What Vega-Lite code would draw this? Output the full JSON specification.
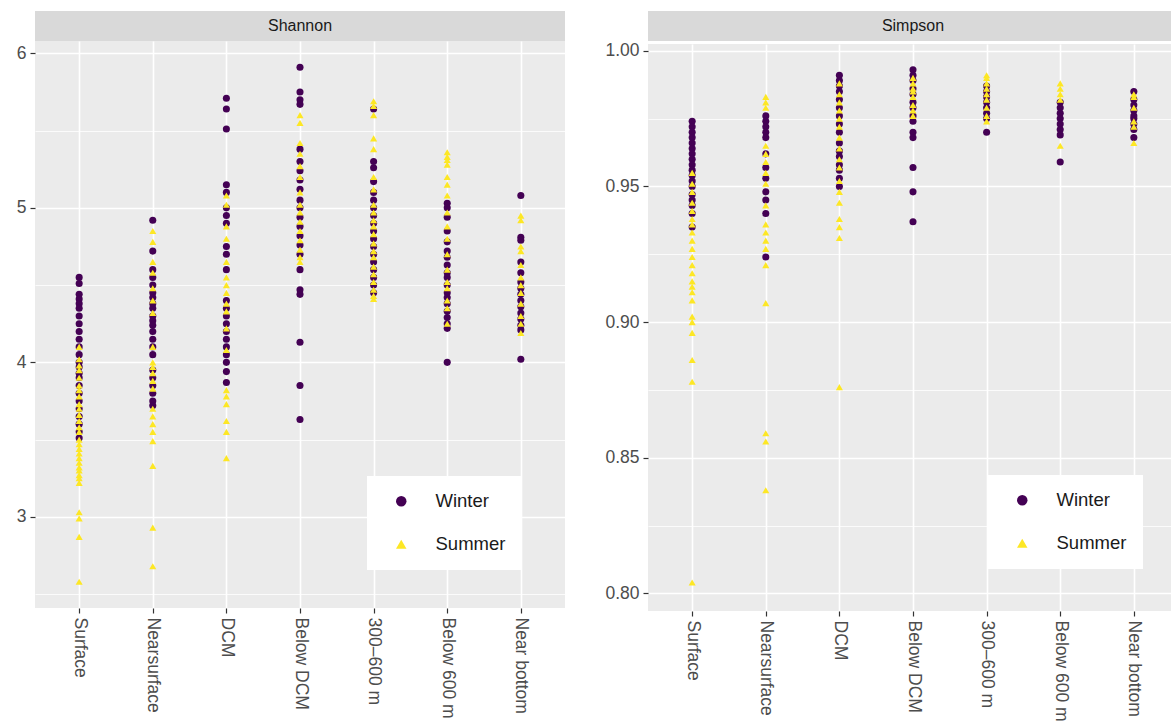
{
  "$schema": "https://vega.github.io/schema/vega-lite/v6.json",
  "background": "white",
  "padding": {"left": 16, "top": 11, "right": 0, "bottom": 0},
  "config": {
    "font": "Liberation Sans",
    "axis": {"domain": false, "labelColor": "#4d4d4d", "labelFontSize": 17.5, "labelFont": "Liberation Sans", "tickColor": "#333333", "tickSize": 5, "tickWidth": 1.2, "gridColor": "#ffffff", "gridWidth": 1.6, "title": null},
    "legend": {"title": null, "orient": "none", "fillColor": "#ffffff", "padding": 16, "labelFontSize": 18.5, "labelFont": "Liberation Sans", "labelColor": "#1a1a1a", "symbolSize": 110, "rowPadding": 24, "symbolOffset": 9, "labelOffset": 25, "symbolStrokeWidth": 0}
  },
  "datasets": {
    "shannon": [
      {"depth":"Surface","season":"Winter","value":4.55},{"depth":"Surface","season":"Winter","value":4.51},{"depth":"Surface","season":"Winter","value":4.44},{"depth":"Surface","season":"Winter","value":4.41},{"depth":"Surface","season":"Winter","value":4.38},{"depth":"Surface","season":"Winter","value":4.35},{"depth":"Surface","season":"Winter","value":4.3},{"depth":"Surface","season":"Winter","value":4.25},{"depth":"Surface","season":"Winter","value":4.2},{"depth":"Surface","season":"Winter","value":4.15},{"depth":"Surface","season":"Winter","value":4.1},{"depth":"Surface","season":"Winter","value":4.05},{"depth":"Surface","season":"Winter","value":4.0},{"depth":"Surface","season":"Winter","value":3.97},{"depth":"Surface","season":"Winter","value":3.93},{"depth":"Surface","season":"Winter","value":3.9},{"depth":"Surface","season":"Winter","value":3.85},{"depth":"Surface","season":"Winter","value":3.8},{"depth":"Surface","season":"Winter","value":3.75},{"depth":"Surface","season":"Winter","value":3.7},{"depth":"Surface","season":"Winter","value":3.65},{"depth":"Surface","season":"Winter","value":3.6},{"depth":"Surface","season":"Winter","value":3.55},{"depth":"Surface","season":"Winter","value":3.51},
      {"depth":"Surface","season":"Summer","value":4.1},{"depth":"Surface","season":"Summer","value":4.02},{"depth":"Surface","season":"Summer","value":3.98},{"depth":"Surface","season":"Summer","value":3.95},{"depth":"Surface","season":"Summer","value":3.9},{"depth":"Surface","season":"Summer","value":3.85},{"depth":"Surface","season":"Summer","value":3.82},{"depth":"Surface","season":"Summer","value":3.78},{"depth":"Surface","season":"Summer","value":3.73},{"depth":"Surface","season":"Summer","value":3.7},{"depth":"Surface","season":"Summer","value":3.66},{"depth":"Surface","season":"Summer","value":3.62},{"depth":"Surface","season":"Summer","value":3.58},{"depth":"Surface","season":"Summer","value":3.55},{"depth":"Surface","season":"Summer","value":3.5},{"depth":"Surface","season":"Summer","value":3.47},{"depth":"Surface","season":"Summer","value":3.44},{"depth":"Surface","season":"Summer","value":3.41},{"depth":"Surface","season":"Summer","value":3.38},{"depth":"Surface","season":"Summer","value":3.35},{"depth":"Surface","season":"Summer","value":3.32},{"depth":"Surface","season":"Summer","value":3.3},{"depth":"Surface","season":"Summer","value":3.27},{"depth":"Surface","season":"Summer","value":3.25},{"depth":"Surface","season":"Summer","value":3.22},{"depth":"Surface","season":"Summer","value":3.03},{"depth":"Surface","season":"Summer","value":2.99},{"depth":"Surface","season":"Summer","value":2.87},{"depth":"Surface","season":"Summer","value":2.58},
      {"depth":"Nearsurface","season":"Winter","value":4.92},{"depth":"Nearsurface","season":"Winter","value":4.72},{"depth":"Nearsurface","season":"Winter","value":4.6},{"depth":"Nearsurface","season":"Winter","value":4.55},{"depth":"Nearsurface","season":"Winter","value":4.5},{"depth":"Nearsurface","season":"Winter","value":4.45},{"depth":"Nearsurface","season":"Winter","value":4.42},{"depth":"Nearsurface","season":"Winter","value":4.38},{"depth":"Nearsurface","season":"Winter","value":4.35},{"depth":"Nearsurface","season":"Winter","value":4.3},{"depth":"Nearsurface","season":"Winter","value":4.27},{"depth":"Nearsurface","season":"Winter","value":4.24},{"depth":"Nearsurface","season":"Winter","value":4.2},{"depth":"Nearsurface","season":"Winter","value":4.15},{"depth":"Nearsurface","season":"Winter","value":4.1},{"depth":"Nearsurface","season":"Winter","value":4.05},{"depth":"Nearsurface","season":"Winter","value":3.95},{"depth":"Nearsurface","season":"Winter","value":3.9},{"depth":"Nearsurface","season":"Winter","value":3.85},{"depth":"Nearsurface","season":"Winter","value":3.8},{"depth":"Nearsurface","season":"Winter","value":3.75},{"depth":"Nearsurface","season":"Winter","value":3.72},
      {"depth":"Nearsurface","season":"Summer","value":4.85},{"depth":"Nearsurface","season":"Summer","value":4.78},{"depth":"Nearsurface","season":"Summer","value":4.65},{"depth":"Nearsurface","season":"Summer","value":4.58},{"depth":"Nearsurface","season":"Summer","value":4.48},{"depth":"Nearsurface","season":"Summer","value":4.4},{"depth":"Nearsurface","season":"Summer","value":4.32},{"depth":"Nearsurface","season":"Summer","value":4.1},{"depth":"Nearsurface","season":"Summer","value":4.0},{"depth":"Nearsurface","season":"Summer","value":3.97},{"depth":"Nearsurface","season":"Summer","value":3.93},{"depth":"Nearsurface","season":"Summer","value":3.88},{"depth":"Nearsurface","season":"Summer","value":3.83},{"depth":"Nearsurface","season":"Summer","value":3.7},{"depth":"Nearsurface","season":"Summer","value":3.65},{"depth":"Nearsurface","season":"Summer","value":3.6},{"depth":"Nearsurface","season":"Summer","value":3.55},{"depth":"Nearsurface","season":"Summer","value":3.49},{"depth":"Nearsurface","season":"Summer","value":3.33},{"depth":"Nearsurface","season":"Summer","value":2.93},{"depth":"Nearsurface","season":"Summer","value":2.68},
      {"depth":"DCM","season":"Winter","value":5.71},{"depth":"DCM","season":"Winter","value":5.64},{"depth":"DCM","season":"Winter","value":5.51},{"depth":"DCM","season":"Winter","value":5.15},{"depth":"DCM","season":"Winter","value":5.1},{"depth":"DCM","season":"Winter","value":5.0},{"depth":"DCM","season":"Winter","value":4.95},{"depth":"DCM","season":"Winter","value":4.9},{"depth":"DCM","season":"Winter","value":4.75},{"depth":"DCM","season":"Winter","value":4.7},{"depth":"DCM","season":"Winter","value":4.6},{"depth":"DCM","season":"Winter","value":4.4},{"depth":"DCM","season":"Winter","value":4.35},{"depth":"DCM","season":"Winter","value":4.3},{"depth":"DCM","season":"Winter","value":4.25},{"depth":"DCM","season":"Winter","value":4.2},{"depth":"DCM","season":"Winter","value":4.15},{"depth":"DCM","season":"Winter","value":4.1},{"depth":"DCM","season":"Winter","value":4.05},{"depth":"DCM","season":"Winter","value":4.0},{"depth":"DCM","season":"Winter","value":3.94},{"depth":"DCM","season":"Winter","value":3.87},
      {"depth":"DCM","season":"Summer","value":5.08},{"depth":"DCM","season":"Summer","value":5.02},{"depth":"DCM","season":"Summer","value":4.88},{"depth":"DCM","season":"Summer","value":4.8},{"depth":"DCM","season":"Summer","value":4.65},{"depth":"DCM","season":"Summer","value":4.55},{"depth":"DCM","season":"Summer","value":4.5},{"depth":"DCM","season":"Summer","value":4.45},{"depth":"DCM","season":"Summer","value":4.38},{"depth":"DCM","season":"Summer","value":4.33},{"depth":"DCM","season":"Summer","value":4.22},{"depth":"DCM","season":"Summer","value":4.08},{"depth":"DCM","season":"Summer","value":3.82},{"depth":"DCM","season":"Summer","value":3.78},{"depth":"DCM","season":"Summer","value":3.73},{"depth":"DCM","season":"Summer","value":3.62},{"depth":"DCM","season":"Summer","value":3.55},{"depth":"DCM","season":"Summer","value":3.38},
      {"depth":"Below DCM","season":"Winter","value":5.91},{"depth":"Below DCM","season":"Winter","value":5.75},{"depth":"Below DCM","season":"Winter","value":5.7},{"depth":"Below DCM","season":"Winter","value":5.67},{"depth":"Below DCM","season":"Winter","value":5.38},{"depth":"Below DCM","season":"Winter","value":5.3},{"depth":"Below DCM","season":"Winter","value":5.24},{"depth":"Below DCM","season":"Winter","value":5.18},{"depth":"Below DCM","season":"Winter","value":5.12},{"depth":"Below DCM","season":"Winter","value":5.05},{"depth":"Below DCM","season":"Winter","value":5.0},{"depth":"Below DCM","season":"Winter","value":4.94},{"depth":"Below DCM","season":"Winter","value":4.88},{"depth":"Below DCM","season":"Winter","value":4.82},{"depth":"Below DCM","season":"Winter","value":4.76},{"depth":"Below DCM","season":"Winter","value":4.7},{"depth":"Below DCM","season":"Winter","value":4.6},{"depth":"Below DCM","season":"Winter","value":4.47},{"depth":"Below DCM","season":"Winter","value":4.44},{"depth":"Below DCM","season":"Winter","value":4.13},{"depth":"Below DCM","season":"Winter","value":3.85},{"depth":"Below DCM","season":"Winter","value":3.63},
      {"depth":"Below DCM","season":"Summer","value":5.6},{"depth":"Below DCM","season":"Summer","value":5.55},{"depth":"Below DCM","season":"Summer","value":5.42},{"depth":"Below DCM","season":"Summer","value":5.35},{"depth":"Below DCM","season":"Summer","value":5.27},{"depth":"Below DCM","season":"Summer","value":5.2},{"depth":"Below DCM","season":"Summer","value":5.1},{"depth":"Below DCM","season":"Summer","value":5.02},{"depth":"Below DCM","season":"Summer","value":4.97},{"depth":"Below DCM","season":"Summer","value":4.91},{"depth":"Below DCM","season":"Summer","value":4.85},{"depth":"Below DCM","season":"Summer","value":4.79},{"depth":"Below DCM","season":"Summer","value":4.73},{"depth":"Below DCM","season":"Summer","value":4.68},{"depth":"Below DCM","season":"Summer","value":4.65},
      {"depth":"300–600 m","season":"Winter","value":5.64},{"depth":"300–600 m","season":"Winter","value":5.3},{"depth":"300–600 m","season":"Winter","value":5.26},{"depth":"300–600 m","season":"Winter","value":5.17},{"depth":"300–600 m","season":"Winter","value":5.1},{"depth":"300–600 m","season":"Winter","value":5.05},{"depth":"300–600 m","season":"Winter","value":5.0},{"depth":"300–600 m","season":"Winter","value":4.95},{"depth":"300–600 m","season":"Winter","value":4.9},{"depth":"300–600 m","season":"Winter","value":4.85},{"depth":"300–600 m","season":"Winter","value":4.8},{"depth":"300–600 m","season":"Winter","value":4.75},{"depth":"300–600 m","season":"Winter","value":4.7},{"depth":"300–600 m","season":"Winter","value":4.65},{"depth":"300–600 m","season":"Winter","value":4.6},{"depth":"300–600 m","season":"Winter","value":4.55},{"depth":"300–600 m","season":"Winter","value":4.5},{"depth":"300–600 m","season":"Winter","value":4.45},
      {"depth":"300–600 m","season":"Summer","value":5.69},{"depth":"300–600 m","season":"Summer","value":5.66},{"depth":"300–600 m","season":"Summer","value":5.6},{"depth":"300–600 m","season":"Summer","value":5.45},{"depth":"300–600 m","season":"Summer","value":5.38},{"depth":"300–600 m","season":"Summer","value":5.2},{"depth":"300–600 m","season":"Summer","value":5.12},{"depth":"300–600 m","season":"Summer","value":5.02},{"depth":"300–600 m","season":"Summer","value":4.97},{"depth":"300–600 m","season":"Summer","value":4.92},{"depth":"300–600 m","season":"Summer","value":4.88},{"depth":"300–600 m","season":"Summer","value":4.83},{"depth":"300–600 m","season":"Summer","value":4.77},{"depth":"300–600 m","season":"Summer","value":4.72},{"depth":"300–600 m","season":"Summer","value":4.68},{"depth":"300–600 m","season":"Summer","value":4.62},{"depth":"300–600 m","season":"Summer","value":4.57},{"depth":"300–600 m","season":"Summer","value":4.52},{"depth":"300–600 m","season":"Summer","value":4.47},{"depth":"300–600 m","season":"Summer","value":4.43},{"depth":"300–600 m","season":"Summer","value":4.41},
      {"depth":"Below 600 m","season":"Winter","value":5.03},{"depth":"Below 600 m","season":"Winter","value":5.0},{"depth":"Below 600 m","season":"Winter","value":4.94},{"depth":"Below 600 m","season":"Winter","value":4.85},{"depth":"Below 600 m","season":"Winter","value":4.78},{"depth":"Below 600 m","season":"Winter","value":4.72},{"depth":"Below 600 m","season":"Winter","value":4.68},{"depth":"Below 600 m","season":"Winter","value":4.63},{"depth":"Below 600 m","season":"Winter","value":4.58},{"depth":"Below 600 m","season":"Winter","value":4.55},{"depth":"Below 600 m","season":"Winter","value":4.5},{"depth":"Below 600 m","season":"Winter","value":4.45},{"depth":"Below 600 m","season":"Winter","value":4.42},{"depth":"Below 600 m","season":"Winter","value":4.38},{"depth":"Below 600 m","season":"Winter","value":4.33},{"depth":"Below 600 m","season":"Winter","value":4.29},{"depth":"Below 600 m","season":"Winter","value":4.25},{"depth":"Below 600 m","season":"Winter","value":4.22},{"depth":"Below 600 m","season":"Winter","value":4.0},
      {"depth":"Below 600 m","season":"Summer","value":5.36},{"depth":"Below 600 m","season":"Summer","value":5.33},{"depth":"Below 600 m","season":"Summer","value":5.31},{"depth":"Below 600 m","season":"Summer","value":5.28},{"depth":"Below 600 m","season":"Summer","value":5.2},{"depth":"Below 600 m","season":"Summer","value":5.15},{"depth":"Below 600 m","season":"Summer","value":5.08},{"depth":"Below 600 m","season":"Summer","value":4.97},{"depth":"Below 600 m","season":"Summer","value":4.88},{"depth":"Below 600 m","season":"Summer","value":4.8},{"depth":"Below 600 m","season":"Summer","value":4.7},{"depth":"Below 600 m","season":"Summer","value":4.6},{"depth":"Below 600 m","season":"Summer","value":4.52},{"depth":"Below 600 m","season":"Summer","value":4.48},{"depth":"Below 600 m","season":"Summer","value":4.4},{"depth":"Below 600 m","season":"Summer","value":4.35},{"depth":"Below 600 m","season":"Summer","value":4.25},
      {"depth":"Near bottom","season":"Winter","value":5.08},{"depth":"Near bottom","season":"Winter","value":4.81},{"depth":"Near bottom","season":"Winter","value":4.79},{"depth":"Near bottom","season":"Winter","value":4.65},{"depth":"Near bottom","season":"Winter","value":4.58},{"depth":"Near bottom","season":"Winter","value":4.52},{"depth":"Near bottom","season":"Winter","value":4.48},{"depth":"Near bottom","season":"Winter","value":4.44},{"depth":"Near bottom","season":"Winter","value":4.4},{"depth":"Near bottom","season":"Winter","value":4.36},{"depth":"Near bottom","season":"Winter","value":4.32},{"depth":"Near bottom","season":"Winter","value":4.28},{"depth":"Near bottom","season":"Winter","value":4.24},{"depth":"Near bottom","season":"Winter","value":4.21},{"depth":"Near bottom","season":"Winter","value":4.02},
      {"depth":"Near bottom","season":"Summer","value":4.95},{"depth":"Near bottom","season":"Summer","value":4.92},{"depth":"Near bottom","season":"Summer","value":4.75},{"depth":"Near bottom","season":"Summer","value":4.72},{"depth":"Near bottom","season":"Summer","value":4.63},{"depth":"Near bottom","season":"Summer","value":4.55},{"depth":"Near bottom","season":"Summer","value":4.5},{"depth":"Near bottom","season":"Summer","value":4.45},{"depth":"Near bottom","season":"Summer","value":4.38},{"depth":"Near bottom","season":"Summer","value":4.3},{"depth":"Near bottom","season":"Summer","value":4.25},{"depth":"Near bottom","season":"Summer","value":4.19}
    ],
    "simpson": [
      {"depth":"Surface","season":"Winter","value":0.974},{"depth":"Surface","season":"Winter","value":0.972},{"depth":"Surface","season":"Winter","value":0.97},{"depth":"Surface","season":"Winter","value":0.968},{"depth":"Surface","season":"Winter","value":0.966},{"depth":"Surface","season":"Winter","value":0.964},{"depth":"Surface","season":"Winter","value":0.962},{"depth":"Surface","season":"Winter","value":0.96},{"depth":"Surface","season":"Winter","value":0.958},{"depth":"Surface","season":"Winter","value":0.956},{"depth":"Surface","season":"Winter","value":0.954},{"depth":"Surface","season":"Winter","value":0.952},{"depth":"Surface","season":"Winter","value":0.95},{"depth":"Surface","season":"Winter","value":0.947},{"depth":"Surface","season":"Winter","value":0.945},{"depth":"Surface","season":"Winter","value":0.943},{"depth":"Surface","season":"Winter","value":0.94},{"depth":"Surface","season":"Winter","value":0.935},
      {"depth":"Surface","season":"Summer","value":0.955},{"depth":"Surface","season":"Summer","value":0.951},{"depth":"Surface","season":"Summer","value":0.948},{"depth":"Surface","season":"Summer","value":0.944},{"depth":"Surface","season":"Summer","value":0.941},{"depth":"Surface","season":"Summer","value":0.938},{"depth":"Surface","season":"Summer","value":0.936},{"depth":"Surface","season":"Summer","value":0.933},{"depth":"Surface","season":"Summer","value":0.93},{"depth":"Surface","season":"Summer","value":0.927},{"depth":"Surface","season":"Summer","value":0.924},{"depth":"Surface","season":"Summer","value":0.921},{"depth":"Surface","season":"Summer","value":0.918},{"depth":"Surface","season":"Summer","value":0.915},{"depth":"Surface","season":"Summer","value":0.913},{"depth":"Surface","season":"Summer","value":0.911},{"depth":"Surface","season":"Summer","value":0.908},{"depth":"Surface","season":"Summer","value":0.902},{"depth":"Surface","season":"Summer","value":0.9},{"depth":"Surface","season":"Summer","value":0.896},{"depth":"Surface","season":"Summer","value":0.886},{"depth":"Surface","season":"Summer","value":0.878},{"depth":"Surface","season":"Summer","value":0.804},
      {"depth":"Nearsurface","season":"Winter","value":0.976},{"depth":"Nearsurface","season":"Winter","value":0.974},{"depth":"Nearsurface","season":"Winter","value":0.972},{"depth":"Nearsurface","season":"Winter","value":0.97},{"depth":"Nearsurface","season":"Winter","value":0.968},{"depth":"Nearsurface","season":"Winter","value":0.962},{"depth":"Nearsurface","season":"Winter","value":0.957},{"depth":"Nearsurface","season":"Winter","value":0.953},{"depth":"Nearsurface","season":"Winter","value":0.948},{"depth":"Nearsurface","season":"Winter","value":0.945},{"depth":"Nearsurface","season":"Winter","value":0.94},{"depth":"Nearsurface","season":"Winter","value":0.924},
      {"depth":"Nearsurface","season":"Summer","value":0.983},{"depth":"Nearsurface","season":"Summer","value":0.981},{"depth":"Nearsurface","season":"Summer","value":0.979},{"depth":"Nearsurface","season":"Summer","value":0.965},{"depth":"Nearsurface","season":"Summer","value":0.962},{"depth":"Nearsurface","season":"Summer","value":0.959},{"depth":"Nearsurface","season":"Summer","value":0.955},{"depth":"Nearsurface","season":"Summer","value":0.951},{"depth":"Nearsurface","season":"Summer","value":0.943},{"depth":"Nearsurface","season":"Summer","value":0.936},{"depth":"Nearsurface","season":"Summer","value":0.933},{"depth":"Nearsurface","season":"Summer","value":0.93},{"depth":"Nearsurface","season":"Summer","value":0.927},{"depth":"Nearsurface","season":"Summer","value":0.921},{"depth":"Nearsurface","season":"Summer","value":0.907},{"depth":"Nearsurface","season":"Summer","value":0.859},{"depth":"Nearsurface","season":"Summer","value":0.856},{"depth":"Nearsurface","season":"Summer","value":0.838},
      {"depth":"DCM","season":"Winter","value":0.991},{"depth":"DCM","season":"Winter","value":0.989},{"depth":"DCM","season":"Winter","value":0.987},{"depth":"DCM","season":"Winter","value":0.985},{"depth":"DCM","season":"Winter","value":0.982},{"depth":"DCM","season":"Winter","value":0.979},{"depth":"DCM","season":"Winter","value":0.976},{"depth":"DCM","season":"Winter","value":0.973},{"depth":"DCM","season":"Winter","value":0.97},{"depth":"DCM","season":"Winter","value":0.966},{"depth":"DCM","season":"Winter","value":0.963},{"depth":"DCM","season":"Winter","value":0.961},{"depth":"DCM","season":"Winter","value":0.958},{"depth":"DCM","season":"Winter","value":0.956},{"depth":"DCM","season":"Winter","value":0.953},{"depth":"DCM","season":"Winter","value":0.95},
      {"depth":"DCM","season":"Summer","value":0.988},{"depth":"DCM","season":"Summer","value":0.984},{"depth":"DCM","season":"Summer","value":0.981},{"depth":"DCM","season":"Summer","value":0.978},{"depth":"DCM","season":"Summer","value":0.975},{"depth":"DCM","season":"Summer","value":0.972},{"depth":"DCM","season":"Summer","value":0.968},{"depth":"DCM","season":"Summer","value":0.964},{"depth":"DCM","season":"Summer","value":0.96},{"depth":"DCM","season":"Summer","value":0.957},{"depth":"DCM","season":"Summer","value":0.952},{"depth":"DCM","season":"Summer","value":0.948},{"depth":"DCM","season":"Summer","value":0.944},{"depth":"DCM","season":"Summer","value":0.938},{"depth":"DCM","season":"Summer","value":0.935},{"depth":"DCM","season":"Summer","value":0.931},{"depth":"DCM","season":"Summer","value":0.876},
      {"depth":"Below DCM","season":"Winter","value":0.993},{"depth":"Below DCM","season":"Winter","value":0.991},{"depth":"Below DCM","season":"Winter","value":0.989},{"depth":"Below DCM","season":"Winter","value":0.986},{"depth":"Below DCM","season":"Winter","value":0.984},{"depth":"Below DCM","season":"Winter","value":0.981},{"depth":"Below DCM","season":"Winter","value":0.979},{"depth":"Below DCM","season":"Winter","value":0.976},{"depth":"Below DCM","season":"Winter","value":0.974},{"depth":"Below DCM","season":"Winter","value":0.97},{"depth":"Below DCM","season":"Winter","value":0.968},{"depth":"Below DCM","season":"Winter","value":0.957},{"depth":"Below DCM","season":"Winter","value":0.948},{"depth":"Below DCM","season":"Winter","value":0.937},
      {"depth":"Below DCM","season":"Summer","value":0.99},{"depth":"Below DCM","season":"Summer","value":0.988},{"depth":"Below DCM","season":"Summer","value":0.986},{"depth":"Below DCM","season":"Summer","value":0.985},{"depth":"Below DCM","season":"Summer","value":0.983},{"depth":"Below DCM","season":"Summer","value":0.98},{"depth":"Below DCM","season":"Summer","value":0.978},{"depth":"Below DCM","season":"Summer","value":0.976},
      {"depth":"300–600 m","season":"Winter","value":0.987},{"depth":"300–600 m","season":"Winter","value":0.985},{"depth":"300–600 m","season":"Winter","value":0.983},{"depth":"300–600 m","season":"Winter","value":0.981},{"depth":"300–600 m","season":"Winter","value":0.979},{"depth":"300–600 m","season":"Winter","value":0.977},{"depth":"300–600 m","season":"Winter","value":0.975},{"depth":"300–600 m","season":"Winter","value":0.97},
      {"depth":"300–600 m","season":"Summer","value":0.991},{"depth":"300–600 m","season":"Summer","value":0.99},{"depth":"300–600 m","season":"Summer","value":0.988},{"depth":"300–600 m","season":"Summer","value":0.986},{"depth":"300–600 m","season":"Summer","value":0.984},{"depth":"300–600 m","season":"Summer","value":0.982},{"depth":"300–600 m","season":"Summer","value":0.979},{"depth":"300–600 m","season":"Summer","value":0.976},{"depth":"300–600 m","season":"Summer","value":0.974},
      {"depth":"Below 600 m","season":"Winter","value":0.981},{"depth":"Below 600 m","season":"Winter","value":0.979},{"depth":"Below 600 m","season":"Winter","value":0.977},{"depth":"Below 600 m","season":"Winter","value":0.975},{"depth":"Below 600 m","season":"Winter","value":0.973},{"depth":"Below 600 m","season":"Winter","value":0.971},{"depth":"Below 600 m","season":"Winter","value":0.969},{"depth":"Below 600 m","season":"Winter","value":0.959},
      {"depth":"Below 600 m","season":"Summer","value":0.988},{"depth":"Below 600 m","season":"Summer","value":0.986},{"depth":"Below 600 m","season":"Summer","value":0.984},{"depth":"Below 600 m","season":"Summer","value":0.982},{"depth":"Below 600 m","season":"Summer","value":0.965},
      {"depth":"Near bottom","season":"Winter","value":0.985},{"depth":"Near bottom","season":"Winter","value":0.982},{"depth":"Near bottom","season":"Winter","value":0.98},{"depth":"Near bottom","season":"Winter","value":0.978},{"depth":"Near bottom","season":"Winter","value":0.976},{"depth":"Near bottom","season":"Winter","value":0.975},{"depth":"Near bottom","season":"Winter","value":0.973},{"depth":"Near bottom","season":"Winter","value":0.971},{"depth":"Near bottom","season":"Winter","value":0.968},
      {"depth":"Near bottom","season":"Summer","value":0.984},{"depth":"Near bottom","season":"Summer","value":0.983},{"depth":"Near bottom","season":"Summer","value":0.979},{"depth":"Near bottom","season":"Summer","value":0.974},{"depth":"Near bottom","season":"Summer","value":0.972},{"depth":"Near bottom","season":"Summer","value":0.966}
    ]
  },
  "hconcat": [
    {
      "spacing": 0,
      "vconcat": [
        {
          "width": 530, "height": 30,
          "data": {"values": [{"panel": "Shannon"}]},
          "view": {"fill": "#d9d9d9", "stroke": null},
          "mark": {"type": "text", "fontSize": 16, "color": "#1a1a1a", "font": "Liberation Sans"},
          "encoding": {"text": {"field": "panel", "type": "nominal"}}
        },
        {
          "width": 530, "height": 567,
          "data": {"name": "shannon"},
          "view": {"fill": "#ebebeb", "stroke": null},
          "resolve": {"axis": {"y": "independent"}},
          "layer": [
            {
              "mark": {"type": "point", "opacity": 0},
              "encoding": {
                "y": {"field": "value", "type": "quantitative", "scale": {"domain": [2.41, 6.08], "nice": false, "zero": false},
                      "axis": {"orient": "left", "values": [2.5, 3.5, 4.5, 5.5], "labels": false, "ticks": false, "grid": true, "gridWidth": 0.8}}
              }
            },
            {
              "mark": {"type": "point", "filled": true, "opacity": 1, "size": 50},
              "encoding": {
                "x": {"field": "depth", "type": "nominal", "sort": ["Surface","Nearsurface","DCM","Below DCM","300–600 m","Below 600 m","Near bottom"],
                      "scale": {"type": "point", "padding": 0.6},
                      "axis": {"labelAngle": 90, "labelAlign": "left", "labelBaseline": "middle", "labelPadding": 4, "grid": true}},
                "y": {"field": "value", "type": "quantitative", "scale": {"domain": [2.41, 6.08], "nice": false, "zero": false},
                      "axis": {"orient": "left", "values": [3, 4, 5, 6], "labelPadding": 4, "grid": true}},
                "color": {"field": "season", "type": "nominal", "scale": {"domain": ["Winter", "Summer"], "range": ["#440154", "#FDE725"]},
                          "legend": {"legendX": 332, "legendY": 465}},
                "shape": {"field": "season", "type": "nominal", "scale": {"domain": ["Winter", "Summer"], "range": ["circle", "triangle-up"]},
                          "legend": {"legendX": 332, "legendY": 465}}
              }
            }
          ]
        }
      ]
    },
    {
      "spacing": 0,
      "vconcat": [
        {
          "width": 530, "height": 30,
          "data": {"values": [{"panel": "Simpson"}]},
          "view": {"fill": "#d9d9d9", "stroke": null},
          "mark": {"type": "text", "fontSize": 16, "color": "#1a1a1a", "font": "Liberation Sans"},
          "encoding": {"text": {"field": "panel", "type": "nominal"}}
        },
        {
          "width": 530, "height": 567,
          "data": {"name": "simpson"},
          "view": {"fill": "#ebebeb", "stroke": null},
          "resolve": {"axis": {"y": "independent"}},
          "layer": [
            {
              "mark": {"type": "point", "opacity": 0},
              "encoding": {
                "y": {"field": "value", "type": "quantitative", "scale": {"domain": [0.7935, 1.0025], "nice": false, "zero": false},
                      "axis": {"orient": "left", "values": [0.825, 0.875, 0.925, 0.975], "labels": false, "ticks": false, "grid": true, "gridWidth": 0.8}}
              }
            },
            {
              "mark": {"type": "point", "filled": true, "opacity": 1, "size": 50},
              "encoding": {
                "x": {"field": "depth", "type": "nominal", "sort": ["Surface","Nearsurface","DCM","Below DCM","300–600 m","Below 600 m","Near bottom"],
                      "scale": {"type": "point", "padding": 0.6},
                      "axis": {"labelAngle": 90, "labelAlign": "left", "labelBaseline": "middle", "labelPadding": 4, "grid": true}},
                "y": {"field": "value", "type": "quantitative", "scale": {"domain": [0.7935, 1.0025], "nice": false, "zero": false},
                      "axis": {"orient": "left", "values": [0.8, 0.85, 0.9, 0.95, 1.0], "format": ".2f", "labelPadding": 4, "grid": true}},
                "color": {"field": "season", "type": "nominal", "scale": {"domain": ["Winter", "Summer"], "range": ["#440154", "#FDE725"]},
                          "legend": {"legendX": 340, "legendY": 464}},
                "shape": {"field": "season", "type": "nominal", "scale": {"domain": ["Winter", "Summer"], "range": ["circle", "triangle-up"]},
                          "legend": {"legendX": 340, "legendY": 464}}
              }
            }
          ]
        }
      ]
    }
  ],
  "spacing": 39,
  "resolve": {
    "scale": {"x": "independent", "y": "independent", "color": "independent", "shape": "independent"},
    "legend": {"color": "independent", "shape": "independent"}
  }
}
